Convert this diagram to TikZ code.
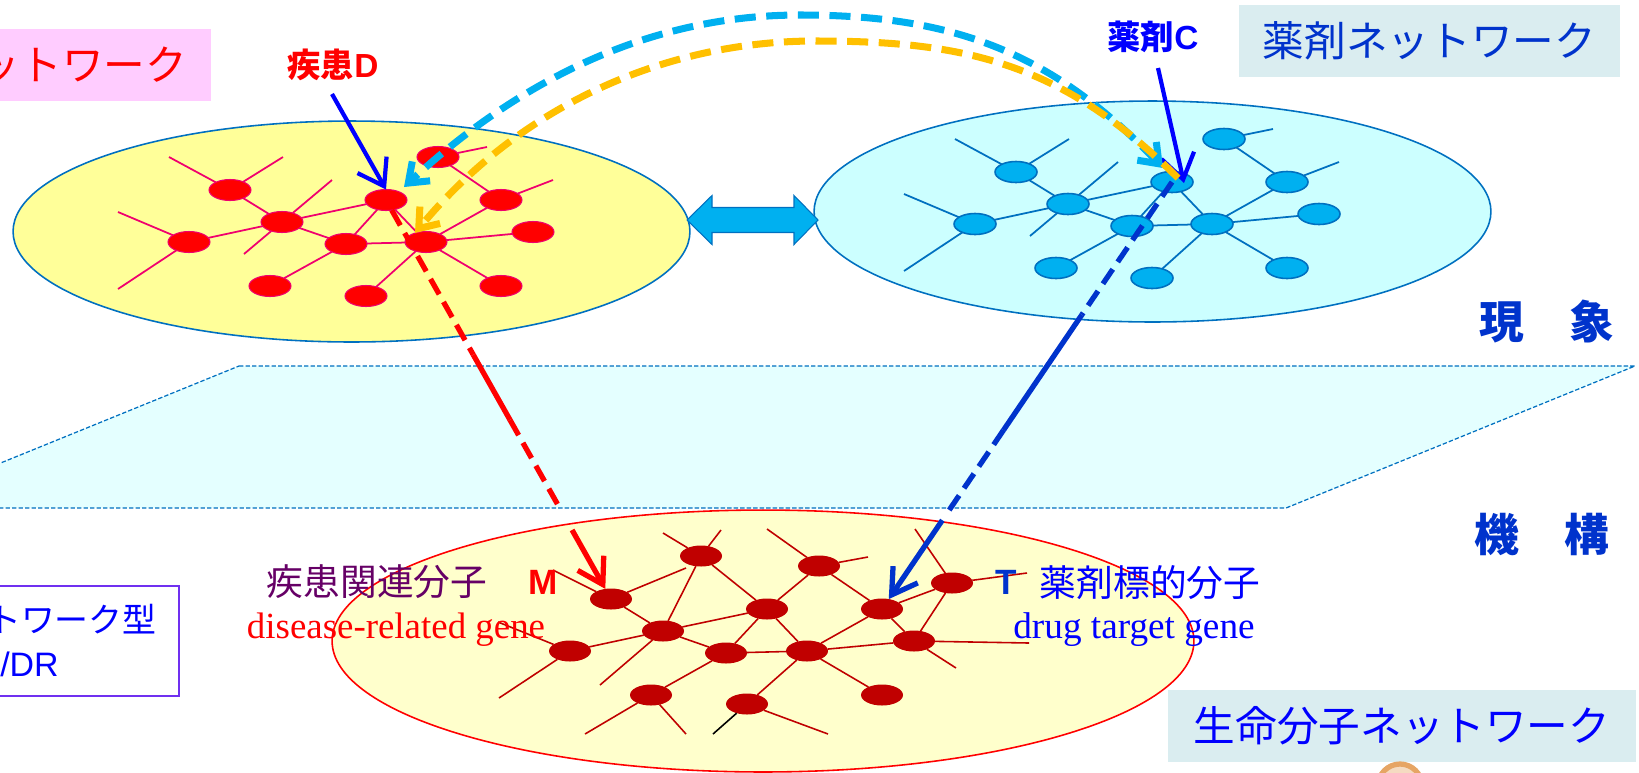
\documentclass[tikz,border=0pt]{standalone}
\usepackage{fontspec}
\setmainfont{Liberation Sans}
\newfontfamily\jp{Noto Sans CJK JP}
\newfontfamily\tms{Liberation Serif}
\usetikzlibrary{shapes.geometric, arrows.meta, calc}
\definecolor{cYel}{RGB}{255,255,153}
\definecolor{cIce}{RGB}{204,255,255}
\definecolor{cCream}{RGB}{255,255,204}
\definecolor{cPlane}{RGB}{228,255,255}
\definecolor{cLine}{RGB}{0,112,192}
\definecolor{cSky}{RGB}{0,176,240}
\definecolor{cRose}{RGB}{240,0,110}
\definecolor{cDark}{RGB}{192,0,0}
\definecolor{cAmber}{RGB}{255,192,0}
\definecolor{cNavy}{RGB}{0,51,204}
\definecolor{cPurple}{RGB}{102,0,102}
\definecolor{cTag}{RGB}{218,237,240}
\definecolor{cPink}{RGB}{255,204,255}
\definecolor{cViolet}{RGB}{112,48,240}
\definecolor{cTan}{RGB}{230,165,100}
\tikzset{
	netarea/.style ={ellipse, draw=cLine, line width=0.9pt, inner sep=0pt, outer sep=0pt},
	disnode/.style ={ellipse, draw=cRose, fill=red, line width=0.6pt, minimum width=0.84cm, minimum height=0.42cm, inner sep=0pt, outer sep=0pt},
	drgnode/.style ={ellipse, draw=cLine, fill=cSky, line width=0.9pt, minimum width=0.84cm, minimum height=0.42cm, inner sep=0pt, outer sep=0pt},
	molnode/.style ={ellipse, fill=cDark, minimum width=0.84cm, minimum height=0.42cm, inner sep=0pt, outer sep=0pt},
	disedge/.style ={draw=cRose, line width=1pt},
	drgedge/.style ={draw=cLine, line width=1pt},
	moledge/.style ={draw=cDark, line width=0.9pt},
	tagbox/.style  ={rectangle, fill=cTag, inner sep=0pt, minimum height=1.44cm, font=\jp\fontsize{23.7}{28}\selectfont},
	txt/.style     ={inner sep=0pt},
	ptr/.style     ={-{Straight Barb[length=14pt, width=19pt]}, line width=2.4pt, blue},
	hop/.style     ={line width=3pt, dash pattern=on 10pt off 5pt},
	hoparc/.style  ={line width=4pt, dash pattern=on 12pt off 6pt},
	barb/.style    ={-{Straight Barb[length=14pt, width=17pt]}, line width=3pt},
}
% one phenotype network (nodes a..l), reused for diseases and drugs
\newcommand{\phenonet}[2]{%
	\foreach \nm/\px/\py in {a/230/190, b/282/222, c/189/242, d/386/200, e/346/244, f/426/242,
		g/438/157, h/501/200, i/533/232, j/270/286, k/366/296, l/501/286}
		\node[#1] (\nm) at (\px,\py) {};
	\foreach \p/\q in {a/b, c/b, b/d, b/e, d/e, d/f, g/h, h/f, e/f, e/j, f/i, f/k, f/l}
		\draw[#2] (\p) -- (\q);
	\foreach \p/\px/\py in {a/169/157, a/283/157, c/118/212, c/118/289, b/332/180, b/244/254, g/487/147, h/553/180}
		\draw[#2] (\p) -- (\px,\py);
}

\begin{document}
\begin{tikzpicture}[x=0.02cm, y=-0.02cm]
	\useasboundingbox (0,0) rectangle (1639,772);
	\clip (0,0) rectangle (1639,772);
	% plane between phenomenon and mechanism
	\filldraw[fill=cPlane, draw=cLine, line width=0.7pt, dash pattern=on 2.5pt off 1.2pt] (239,366) -- (1635,366) -- (1286,508) -- (-110,508) -- cycle;
	% network areas
	\node[netarea, fill=cYel, minimum width=13.54cm, minimum height=4.42cm] (disnet) at (351.5,231.5) {};
	\node[netarea, fill=cIce, minimum width=13.54cm, minimum height=4.42cm] (drgnet) at (1152.5,211.5) {};
	\node[netarea, draw=red, fill=cCream, minimum width=17.24cm, minimum height=5.24cm] (molnet) at (763,641) {};
	\filldraw[fill=cSky, draw=cLine, line width=0.6pt] (687,220) -- (712,195.5) -- (712,207.5) -- (794,207.5) -- (794,195.5) -- (818,220)
		-- (794,244.5) -- (794,232.5) -- (712,232.5) -- (712,244.5) -- cycle;
	\begin{scope}[name prefix=dis-]
		\phenonet{disnode}{disedge}
	\end{scope}
	\begin{scope}[shift={(786,-18)}, name prefix=drg-]
		\phenonet{drgnode}{drgedge}
	\end{scope}
	% molecular network
	\begin{scope}[name prefix=mol-]
		\foreach \nm/\px/\py in {m/611/599, n2/701/556, n3/663/631, n4/570/651, n5/767/609, n6/819/566, n7/726/653,
			t/882/609, n9/952/583, n10/807/651, n11/914/641, n12/651/695, n13/747/704, n14/882/695}
			\node[molnode] (\nm) at (\px,\py) {};
		\foreach \p/\q in {m/n3, n2/n3, n2/n5, n3/n4, n3/n5, n3/n7, n5/n6, n5/n7, n5/n10, n6/t, n7/n10, n7/n12,
			t/n9, t/n10, t/n11, n9/n11, n10/n11, n10/n13, n10/n14}
			\draw[moledge] (\p) -- (\q);
		\foreach \p/\px/\py in {m/553/570, m/686/568, n2/663/533, n2/721/530, n3/600/685, n4/498/622, n4/499/698,
			n6/767/529, n6/868/557, n9/915/529, n9/1027/573, n11/1029/643, n11/956/668, n12/585/734, n12/686/734, n13/828/734}
			\draw[moledge] (\p) -- (\px,\py);
		\draw[black, line width=0.9pt] (n13) -- (713,734);
	\end{scope}
	% title boxes
	\node[tagbox, fill=cPink, text=red, minimum width=7.62cm] (disbox) at (20.5,65) {疾患ネットワーク};
	\node[tagbox, text=cNavy, minimum width=7.62cm] (drgbox) at (1429.5,41) {薬剤ネットワーク};
	\node[tagbox, text=blue, minimum width=9.36cm] (molbox) at (1402,726) {生命分子ネットワーク};
	\node[rectangle, draw=cViolet, line width=0.9pt, minimum width=5.98cm, minimum height=2.2cm] (drbox) at (29.5,641) {};
	\node[txt, anchor=east, text=blue, font=\jp\fontsize{19.3}{23}\selectfont] (drl1) at (157,620) {ネットワーク型};
	\node[txt, anchor=east, text=blue, font=\fontsize{19.3}{23}\selectfont] (drl2) at (59,664) {/DR};
	% levels
	\node[txt, text=cNavy, font=\jp\bfseries\fontsize{25.5}{30}\selectfont] (gensho) at (1547,322) {現　象};
	\node[txt, text=cNavy, font=\jp\bfseries\fontsize{25.5}{30}\selectfont] (kikou) at (1542,534) {機　構};
	% labels
	\node[txt, text=red, font=\bfseries\fontsize{19}{23}\selectfont] (dlbl) at (333,65) {{\jp 疾患}D};
	\node[txt, text=blue, font=\bfseries\fontsize{19}{23}\selectfont] (clbl) at (1153,37) {{\jp 薬剤}C};
	\node[txt, text=cPurple, font=\jp\fontsize{20.9}{25}\selectfont] (mlbl) at (377,582) {疾患関連分子};
	\node[txt, text=red, font=\bfseries\fontsize{20}{24}\selectfont] (mtag) at (543,582) {M};
	\node[txt, anchor=base, text=red, font=\tms\fontsize{21}{25}\selectfont] (mgene) at (396,638) {disease-related gene};
	\node[txt, text=cNavy, font=\bfseries\fontsize{20}{24}\selectfont] (ttag) at (1006,582) {T};
	\node[txt, text=blue, font=\jp\fontsize{20.9}{25}\selectfont] (tlbl) at (1150,583) {薬剤標的分子};
	\node[txt, anchor=base, text=blue, font=\tms\fontsize{21.2}{25}\selectfont] (tgene) at (1134,638) {drug target gene};
	\filldraw[draw=cTan, fill=cTan!40, line width=3pt] (1400,786) circle (0.44cm);
	% pointers from the labels
	\coordinate (dtail) at (332,94);
	\coordinate (ctail) at (1158,68);
	\draw[ptr] (dtail) -- (dis-d.north);
	\draw[ptr] (ctail) -- ($(drg-d)+(12,1)$);
	% disease D -> molecule M
	\coordinate (r1) at ($(dis-d)!0.388!(mol-m)$);
	\coordinate (r2) at ($(dis-d)!0.551!(mol-m)$);
	\coordinate (r3) at ($(dis-d)!0.772!(mol-m)$);
	\coordinate (r4) at ($(dis-d)!0.827!(mol-m)$);
	\draw[hop, red] (dis-d) -- (r1);
	\draw[red, line width=3pt] (r1) -- (r2);
	\draw[hop, red] (r2) -- (r3);
	\draw[barb, red] (r4) -- (mol-m);
	% drug C -> target T
	\coordinate (b1) at ($(drg-d)!0.311!(mol-t)$);
	\coordinate (b2) at ($(drg-d)!0.581!(mol-t)$);
	\coordinate (b3) at ($(drg-d)!0.775!(mol-t)$);
	\coordinate (b4) at ($(drg-d)!0.792!(mol-t)$);
	\draw[hop, cNavy] (drg-d.center) -- (b1);
	\draw[cNavy, line width=3pt] (b1) -- (b2);
	\draw[hop, cNavy] (b2) -- (b3);
	\draw[barb, cNavy] (b4) -- (mol-t);
	% repositioning arcs
	\draw[hoparc, cSky, {Straight Barb[length=10pt, width=15pt]}-{Straight Barb[length=10pt, width=15pt]}]
		($(drg-d)+(-9,-14)$) .. controls (1050,50) and (950,15) .. (800,15) .. controls (650,15) and (520,80) .. ($(dis-d)+(18,-13)$);
	\draw[hoparc, cAmber, -{Straight Barb[length=10pt, width=15pt]}]
		($(drg-d)+(6,-4)$) .. controls (1060,60) and (960,41) .. (815,41) .. controls (680,41) and (530,95) .. ($(dis-f)+(-11,-9)$);
\end{tikzpicture}
\end{document}
